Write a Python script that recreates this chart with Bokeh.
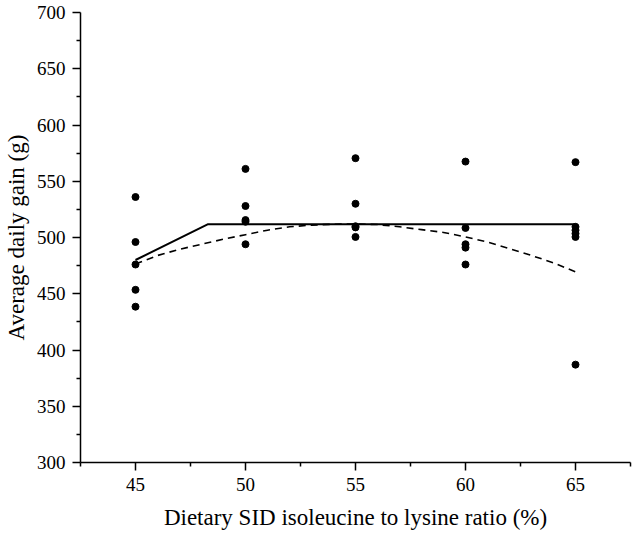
from bokeh.plotting import figure
from bokeh.models import Range1d, FixedTicker
from bokeh.embed import file_html
from bokeh.resources import INLINE

# Observed data points
ratio_45 = [45] * 5
adg_45 = [536, 496, 476, 453.5, 438.5]
ratio_50 = [50] * 5
adg_50 = [561, 528, 515.5, 514, 494]
ratio_55 = [55] * 5
adg_55 = [570.5, 530, 510, 509, 500.5]
ratio_60 = [60] * 5
adg_60 = [567.5, 508.5, 494, 491, 476]
ratio_65 = [65] * 6
adg_65 = [567, 509.5, 506.5, 503.5, 500.5, 387]

# Broken-line model
bl_x = [45, 48.3, 65]
bl_y = [480, 511.8, 511.8]

# Quadratic model
qp_x = [45, 46, 47, 48, 49, 50, 51, 52, 53, 54, 55, 56, 57, 58, 59, 60, 61, 62, 63, 64, 65]
qp_y = [476.5, 484, 489.5, 494, 498.5, 502.5, 506.5, 509.5, 511, 511.8, 512, 511.5,
        509.5, 507, 504.5, 500.5, 496, 490, 484, 477.5, 469.5]

x_ticks = [45, 50, 55, 60, 65]
x_minor = [42.5, 47.5, 52.5, 57.5, 62.5, 67.5]
y_ticks = [300, 350, 400, 450, 500, 550, 600, 650, 700]
y_minor = [325, 375, 425, 475, 525, 575, 625, 675]

p = figure(width=632, height=532, output_backend="svg", toolbar_location=None,
           x_range=Range1d(42.5, 67.5), y_range=Range1d(300, 700),
           min_border_left=72, min_border_right=2, min_border_top=12, min_border_bottom=68)
p.outline_line_color = None
p.xgrid.visible = False
p.ygrid.visible = False
p.background_fill_color = "white"
p.border_fill_color = "white"

xs = ratio_45 + ratio_50 + ratio_55 + ratio_60 + ratio_65
ys = adg_45 + adg_50 + adg_55 + adg_60 + adg_65
p.line(bl_x, bl_y, line_color="black", line_width=2)
p.line(qp_x, qp_y, line_color="black", line_width=1.6, line_dash="7 5")
p.scatter(xs, ys, size=7, color="black")

font = "Liberation Serif"
for ax in (p.xaxis[0], p.yaxis[0]):
    ax.axis_line_width = 1.5
    ax.axis_line_color = "black"
    ax.major_tick_line_width = 1.5
    ax.minor_tick_line_width = 1.5
    ax.major_tick_in = 0
    ax.major_tick_out = 8
    ax.minor_tick_in = 0
    ax.minor_tick_out = 4
    ax.major_label_text_font = font
    ax.major_label_text_font_size = "19px"
    ax.major_label_text_color = "black"
    ax.axis_label_text_font = font
    ax.axis_label_text_font_size = "23px"
    ax.axis_label_text_font_style = "normal"
    ax.axis_label_text_color = "black"

p.xaxis.ticker = FixedTicker(ticks=x_ticks, minor_ticks=x_minor)
p.yaxis.ticker = FixedTicker(ticks=y_ticks, minor_ticks=y_minor)
p.xaxis.axis_label = "Dietary SID isoleucine to lysine ratio (%)"
p.yaxis.axis_label = "Average daily gain (g)"
p.xaxis.axis_label_standoff = 11
p.yaxis.axis_label_standoff = 5
p.xaxis.major_label_standoff = 7
p.yaxis.major_label_standoff = 7

open("out.html", "w").write(file_html(p, INLINE))
